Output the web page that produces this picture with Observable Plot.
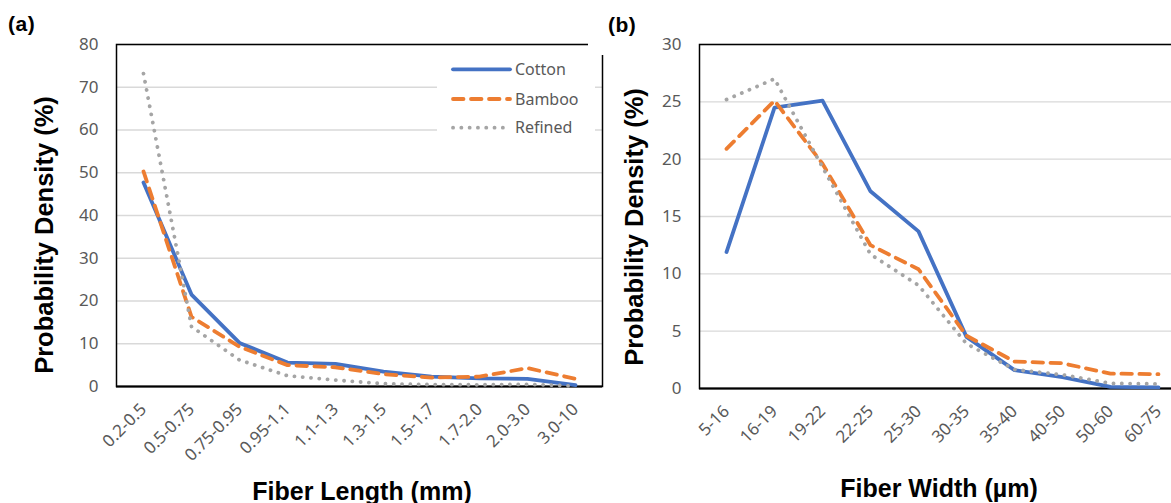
<!DOCTYPE html>
<html>
<head>
<meta charset="utf-8">
<script src="https://cdn.jsdelivr.net/npm/d3@7"></script>
<script src="https://cdn.jsdelivr.net/npm/@observablehq/plot@0.6"></script>
<style>
  html, body { margin: 0; padding: 0; background: #fff; }
  body { width: 1171px; height: 503px; overflow: hidden; position: relative; font-family: "Liberation Sans", Arial, sans-serif; }
  .abs { position: absolute; }
  .plabel { font-weight: bold; font-size: 21px; color: #000; letter-spacing: 0.5px; line-height: 1; }
</style>
</head>
<body>
<div id="panelA" class="abs" style="left:0;top:0;width:620px;height:503px"></div>
<div id="cover" class="abs" style="left:588px;top:0;width:30px;height:55px;background:#fff"></div>
<div id="panelB" class="abs" style="left:588px;top:0;width:607px;height:503px"></div>
<div class="abs plabel" style="left:8px;top:13px">(a)</div>
<div class="abs plabel" style="left:608px;top:14px">(b)</div>
<div id="legend" class="abs" style="left:437px;top:50px"></div>
<script>
// ---------- data ----------
const seriesNames = ["Cotton", "Bamboo", "Refined"];

const lengthCategories = ["0.2-0.5", "0.5-0.75", "0.75-0.95", "0.95-1.1", "1.1-1.3", "1.3-1.5", "1.5-1.7", "1.7-2.0", "2.0-3.0", "3.0-10"];
const lengthCotton  = [47.7, 21.5, 10.2, 5.6, 5.3, 3.5, 2.3, 1.9, 1.8, 0.3];
const lengthBamboo  = [50.3, 16.3, 9.3, 5.0, 4.5, 2.9, 2.1, 2.3, 4.3, 1.8];
const lengthRefined = [73.2, 14.0, 6.2, 2.5, 1.5, 0.65, 0.45, 0.4, 0.5, 0.1];
const lengthYTicks = [0, 10, 20, 30, 40, 50, 60, 70, 80];

const widthCategories = ["5-16", "16-19", "19-22", "22-25", "25-30", "30-35", "35-40", "40-50", "50-60", "60-75"];
const widthCotton  = [11.9, 24.5, 25.1, 17.2, 13.7, 4.5, 1.6, 1.0, 0.15, 0.1];
const widthBamboo  = [20.9, 25.1, 19.6, 12.5, 10.4, 4.6, 2.35, 2.2, 1.3, 1.25];
const widthRefined = [25.2, 27.0, 19.3, 11.7, 9.0, 3.9, 1.65, 1.2, 0.45, 0.4];
const widthYTicks = [0, 5, 10, 15, 20, 25, 30];

const xTitleA = "Fiber Length (mm)";
const xTitleB = "Fiber Width (µm)";
const yTitle = "Probability Density (%)";

// ---------- styles ----------
const seriesStyle = {
  Cotton:  {stroke: "#4472C4", dash: null},
  Bamboo:  {stroke: "#ED7D31", dash: "10.5 7.5"},
  Refined: {stroke: "#A5A5A5", dash: "0.1 8.2"}
};
const tickColor = "#595959";

function toRows(cats, arrays) {
  const rows = [];
  seriesNames.forEach((s, i) => arrays[i].forEach((v, j) => rows.push({cat: cats[j], series: s, value: v})));
  return rows;
}

function panel({cats, rows, yTicks, yMax, width, marginLeft, marginRight, marginTop, marginBottom}) {
  const svg = Plot.plot({
    width, height: 503, marginLeft, marginRight, marginTop, marginBottom,
    style: {background: "transparent", fontFamily: "'Noto Sans', sans-serif", fontSize: "17px", overflow: "visible"},
    x: {type: "point", domain: cats, padding: 0.5, label: null},
    y: {domain: [0, yMax], label: null},
    marks: [
      Plot.gridY(yTicks, {stroke: "#D9D9D9", strokeOpacity: 1, strokeWidth: 1.3}),
      Plot.axisY(yTicks, {tickSize: 0, tickPadding: 18, fill: tickColor, fontSize: 17, label: null}),
      Plot.axisX(cats, {tickSize: 0, tickRotate: -45, tickPadding: 20, fill: tickColor, fontSize: 17, label: null}),
      Plot.frame({stroke: "#000", strokeWidth: 1.5}),
      Plot.ruleY([0], {stroke: "#000", strokeWidth: 2.2}),
      ...seriesNames.map(s => Plot.line(rows.filter(d => d.series === s), {
        x: "cat", y: "value",
        stroke: seriesStyle[s].stroke, strokeWidth: 3.8,
        strokeDasharray: seriesStyle[s].dash,
        strokeLinecap: "round", strokeLinejoin: "round"
      }))
    ]
  });
  svg.style.maxWidth = "none";
  return svg;
}

function addTitles(svg, xt, xCenter, xBase, yCenterX, yCenterY) {
  const s = d3.select(svg);
  s.append("text").attr("x", xCenter).attr("y", xBase).attr("text-anchor", "middle")
    .attr("font-family", "'Liberation Sans', Arial, sans-serif").attr("font-weight", "bold")
    .attr("font-size", 25).attr("fill", "#000").text(xt);
  s.append("text").attr("transform", `translate(${yCenterX},${yCenterY}) rotate(-90)`).attr("text-anchor", "middle")
    .attr("font-family", "'Liberation Sans', Arial, sans-serif").attr("font-weight", "bold")
    .attr("font-size", 25.5).attr("fill", "#000").text(yTitle);
}

const svgA = panel({
  cats: lengthCategories,
  rows: toRows(lengthCategories, [lengthCotton, lengthBamboo, lengthRefined]),
  yTicks: lengthYTicks, yMax: 80,
  width: 620, marginLeft: 116, marginRight: 18, marginTop: 44, marginBottom: 117
});
addTitles(svgA, xTitleA, 362, 500, 53, 235);
document.getElementById("panelA").appendChild(svgA);

const svgB = panel({
  cats: widthCategories,
  rows: toRows(widthCategories, [widthCotton, widthBamboo, widthRefined]),
  yTicks: widthYTicks, yMax: 30,
  width: 607, marginLeft: 111, marginRight: 10, marginTop: 44, marginBottom: 115
});
addTitles(svgB, xTitleB, 351, 497, 55, 227);
document.getElementById("panelB").appendChild(svgB);

// ---------- legend (panel a) ----------
const lg = d3.select("#legend").append("svg").attr("width", 158).attr("height", 92).style("background", "#fff").style("display", "block");
seriesNames.forEach((s, i) => {
  const y = [19.3, 49, 77.7][i];
  lg.append("line").attr("x1", 16).attr("x2", 73).attr("y1", y).attr("y2", y)
    .attr("stroke", seriesStyle[s].stroke).attr("stroke-width", 3.8)
    .attr("stroke-dasharray", seriesStyle[s].dash).attr("stroke-linecap", "round");
  lg.append("text").attr("x", 78).attr("y", y).attr("dy", "0.35em")
    .attr("font-family", "'Noto Sans', sans-serif").attr("font-size", 16).attr("fill", tickColor).text(s);
});
</script>
</body>
</html>
